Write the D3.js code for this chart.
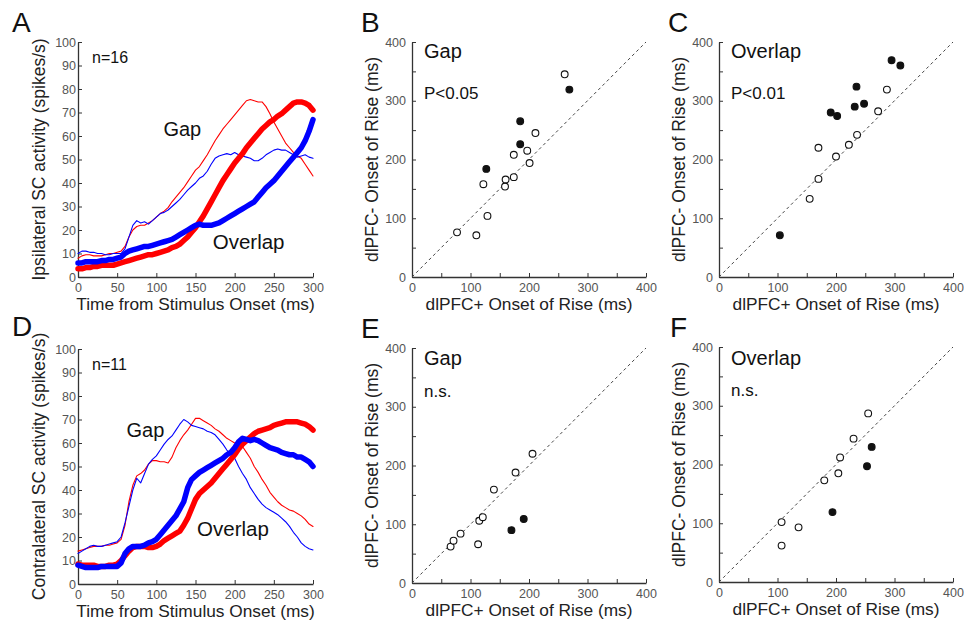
<!DOCTYPE html>
<html><head><meta charset="utf-8">
<script src="https://cdn.jsdelivr.net/npm/d3@7"></script>
<style>
html,body{margin:0;padding:0;background:#fff;}
svg{display:block;font-family:"Liberation Sans",Arial,Helvetica,sans-serif;}
</style></head>
<body>
<svg id="fig" width="964" height="626"></svg>
<script>
// ---------- DATA ----------
const timeMs = d3.range(0, 301, 5);
const timeTicks = [0, 50, 100, 150, 200, 250, 300];
const rateTicks = [0, 10, 20, 30, 40, 50, 60, 70, 80, 90, 100];
const onsetTicks = [0, 50, 100, 150, 200, 250, 300, 350, 400];
const onsetLabels = [0, 100, 200, 300, 400];

// Panel A: ipsilateral
const ipsiGapRed = [8,9,9.5,9.5,9,9,9,9.5,10,10,10.5,11,13,17,20,21.5,22,22,23,24,25.5,27,28,29.5,32,34,36,38,40.5,43,45.5,47,49.5,52,55,58,60.5,63,65,67,69,71,73,75,75.5,75,74.5,74.5,72.5,69.5,66,63,60,57,55,53,51.5,50.5,48,45.5,43];
const ipsiGapBlue = [10,11,11,10.5,10.5,10,10,9.5,9.5,10,10,10,12,17,22,24,23,23.5,22.5,24,25.5,27,27.5,28.5,30,31.5,33,35,37,38.5,40,42,43,45,48,50.5,51.5,52,52.5,52,53,52,51.5,51,50.5,49.5,49.5,50.5,52,53,54,54.5,54,54,53,52,51,51.5,52,51,50.5];
const ipsiOverlapRed = [3.5,3.5,4,4,4.5,4.5,5,5,5,5,5.5,6,6.5,7,7.5,8,8.5,9,9.5,9.5,10,10.5,11,11.5,12.5,13,14,15.5,17,19,21,23.5,26,29,32,35,38,41,43.5,46,48.5,50.5,52.5,55,57,59,61,63,64.5,66,67,68.5,69.5,71,72.5,74,74.5,74.5,74,73,71];
const ipsiOverlapBlue = [6,6,6.5,6.5,6.5,6.5,7,7,7.5,7.5,8,8.5,10,11,11.5,12,12.5,13,13,13.5,14,14.5,15,15.5,16,17,18,19,20,21,22,22.5,22,22,22,22.5,23,24,25,26,27,28,29,30,31,32,34,36,38,39.5,41,43,45,47,49,51,53,55,58,62,67];

// Panel D: contralateral
const contraGapRed = [14,14.5,15,15.5,16,16,16,16.5,16.5,17,17.5,19,25,35,42,46,47,48.5,51,52.5,52.5,52,52,51.5,54,58,61,63.5,65.5,68,70.5,70.5,69.5,68.5,67.5,66,65,63.5,62,61,60,59.5,58.5,56,53.5,50,47.5,44.5,42,39,37,35,33.5,32.5,31.5,31,30,29,27.5,25.5,24.5];
const contraGapBlue = [13,14,15,16,16.5,16,16,16.5,17,17.5,18,20,26,33,40,45,43,47,51,53,54.5,57,59.5,61.5,63,65.5,68,70,69,67.5,67,66.5,66,65,64.5,63.5,61.5,59.5,57,55,53.5,50,47,44.5,41,38.5,36,34,32.5,31.5,30.5,29.5,28,26.5,24.5,22,20,17.5,16,15,14.5];
const contraOverlapRed = [8.5,8,8,8,8,7.5,7.5,7.5,8,8,8.5,10,12,14,15.5,16,16,16,15.5,15.5,16,17,18.5,19.5,20.5,21.5,22.5,25,28,32,36,38.5,40,41.5,43,45,47,49,51,53,55,57.5,59.5,61,62.5,64,65,65.5,66,66.5,67.5,68,68.5,69,69,69,69,68.5,68,67,65.5];
const contraOverlapBlue = [8,7.5,7,7,7,7,7.5,7.5,7.5,7.5,7.5,9,13,15,16,16,16,16.5,17.5,18,19,21,23,25,27,29,32,35,41,44.5,46,47.5,48.5,49.5,50.5,51.5,52.5,53.5,55,56,58,60.5,62,61.5,61,61.5,61,60,59,58,57.5,57,56,55.5,55,55,54,54,53,52,50];

// Scatter panels: dlPFC+ onset, dlPFC- onset, significant (1 = filled)
const ipsiGapPlus   = [77,110,129,122,159,160,174,174,197,201,211,261,127,185,185,269];
const ipsiGapMinus  = [76,71,104,158,154,166,170,208,215,194,245,345,184,265,226,319];
const ipsiGapSig    = [0,0,0,0,0,0,0,0,0,0,0,0,1,1,1,1];

const ipsiOverlapPlus  = [155,170,170,200,222,236,272,287,104,191,202,232,235,248,295,310];
const ipsiOverlapMinus = [133,220,167,205,225,242,282,319,71,280,274,290,324,295,369,360];
const ipsiOverlapSig   = [0,0,0,0,0,0,0,0,1,1,1,1,1,1,1,1];

const contraGapPlus  = [66,71,83,113,115,121,140,177,206,170,191];
const contraGapMinus = [62,72,84,66,106,112,159,188,220,90,109];
const contraGapSig   = [0,0,0,0,0,0,0,0,0,1,1];

const contraOverlapPlus  = [107,107,136,180,204,207,230,255,194,253,261];
const contraOverlapMinus = [102,62,93,173,185,212,244,287,119,197,230];
const contraOverlapSig   = [0,0,0,0,0,0,0,0,1,1,1];

// ---------- DRAW ----------
const svg = d3.select("#fig");
const AXIS_COL = "#333", TICK_TXT = "#555";

function styleAxis(g){
  g.select(".domain").attr("stroke", AXIS_COL).attr("stroke-width", 1.3);
  g.selectAll(".tick line").attr("stroke", AXIS_COL).attr("stroke-width", 1);
  g.selectAll(".tick text").attr("fill", TICK_TXT).attr("font-size", 12.5)
    .attr("font-family", "Liberation Sans, Arial, sans-serif");
}

function panel(cfg){
  const g = svg.append("g").attr("transform", `translate(${cfg.left},${cfg.top})`);
  const x = d3.scaleLinear().domain(cfg.xDom).range([0, cfg.w]);
  const y = d3.scaleLinear().domain(cfg.yDom).range([cfg.h, 0]);
  const fmtX = cfg.xLabels ? (d => cfg.xLabels.includes(d) ? d : "") : (d => d);
  const fmtY = cfg.yLabels ? (d => cfg.yLabels.includes(d) ? d : "") : (d => d);
  const gx = g.append("g").attr("transform", `translate(0,${cfg.h})`)
    .call(d3.axisBottom(x).tickValues(cfg.xTicks).tickFormat(fmtX).tickSizeInner(-4).tickSizeOuter(0).tickPadding(6));
  styleAxis(gx);
  const gy = g.append("g")
    .call(d3.axisLeft(y).tickValues(cfg.yTicks).tickFormat(fmtY).tickSizeInner(-4).tickSizeOuter(0).tickPadding(cfg.yPad));
  styleAxis(gy);
  g.append("text").attr("x", cfg.w/2).attr("y", cfg.h + 33).attr("text-anchor", "middle")
    .attr("font-size", 17.3).attr("fill", "#222").text(cfg.xTitle);
  g.append("text").attr("transform", `translate(${cfg.yTitleX},${cfg.h/2}) rotate(-90)`)
    .attr("text-anchor", "middle").attr("font-size", 17.5).attr("fill", "#222").text(cfg.yTitle);
  svg.append("text").attr("x", cfg.letterX).attr("y", cfg.letterY)
    .attr("font-size", 28).attr("fill", "#111").text(cfg.letter);
  return {g, x, y};
}

function linePanel(cfg, series){
  const {g, x, y} = panel(cfg);
  const line = d3.line().x((d,i) => x(timeMs[i])).y(d => y(d));
  series.forEach(s => {
    g.append("path").datum(s.values).attr("fill", "none").attr("stroke", s.color)
      .attr("stroke-width", s.width).attr("stroke-linejoin", "round").attr("stroke-linecap", "round")
      .attr("d", line);
  });
  cfg.notes.forEach(n => {
    g.append("text").attr("x", x(n.x)).attr("y", y(n.y)).attr("font-size", n.size)
      .attr("fill", "#111").text(n.t);
  });
}

function scatterPanel(cfg, plus, minus, sig){
  const {g, x, y} = panel(cfg);
  g.append("line").attr("x1", x(0)).attr("y1", y(0)).attr("x2", x(400)).attr("y2", y(400))
    .attr("stroke", "#444").attr("stroke-width", 1).attr("stroke-dasharray", "3,3");
  const pts = plus.map((p,i) => ({p, m: minus[i], s: sig[i]}));
  g.selectAll("circle").data(pts).enter().append("circle")
    .attr("cx", d => x(d.p)).attr("cy", d => y(d.m)).attr("r", 3.4)
    .attr("fill", d => d.s ? "#111" : "#fff").attr("stroke", "#111").attr("stroke-width", 1.1);
  cfg.notes.forEach(n => {
    g.append("text").attr("x", 12).attr("y", n.y).attr("font-size", n.size)
      .attr("fill", "#111").text(n.t);
  });
}

const common = {xTicks: timeTicks, yTicks: rateTicks, xDom:[0,300], yDom:[0,100], w:235, h:235,
  xTitle: "Time from Stimulus Onset (ms)", yPad: 2, yTitleX: -33.5};
const scatCommon = {xTicks: onsetTicks, yTicks: onsetTicks, xLabels: onsetLabels, yLabels: onsetLabels,
  xDom:[0,400], yDom:[0,400], w:234, h:235, xTitle: "dlPFC+ Onset of Rise (ms)",
  yTitle: "dlPFC- Onset of Rise (ms)", yPad: 6, yTitleX: -34};

linePanel(Object.assign({}, common, {left:78, top:42, letter:"A", letterX:12, letterY:32,
  yTitle: "Ipsilateral SC activity (spikes/s)",
  notes:[{t:"n=16", x:18, y:91, size:16},{t:"Gap", x:109, y:60, size:20},{t:"Overlap", x:172, y:12, size:20.5}]}),
  [{values: ipsiGapRed, color:"#ff0000", width:1.1},
   {values: ipsiGapBlue, color:"#0000ff", width:1.1},
   {values: ipsiOverlapRed, color:"#ff0000", width:5.5},
   {values: ipsiOverlapBlue, color:"#0000ff", width:5.5}]);

linePanel(Object.assign({}, common, {left:78, top:349, letter:"D", letterX:12, letterY:336,
  yTitle: "Contralateral SC activity (spikes/s)",
  notes:[{t:"n=11", x:18, y:91, size:16},{t:"Gap", x:62, y:62.5, size:20},{t:"Overlap", x:152, y:20.5, size:20.5}]}),
  [{values: contraGapRed, color:"#ff0000", width:1.1},
   {values: contraGapBlue, color:"#0000ff", width:1.1},
   {values: contraOverlapRed, color:"#ff0000", width:5.5},
   {values: contraOverlapBlue, color:"#0000ff", width:5.5}]);

scatterPanel(Object.assign({}, scatCommon, {left:412, top:42, letter:"B", letterX:361, letterY:32,
  notes:[{t:"Gap", y:16, size:20},{t:"P<0.05", y:57, size:17}]}), ipsiGapPlus, ipsiGapMinus, ipsiGapSig);
scatterPanel(Object.assign({}, scatCommon, {left:719, top:42, letter:"C", letterX:668, letterY:32,
  notes:[{t:"Overlap", y:16, size:20},{t:"P<0.01", y:57, size:17}]}), ipsiOverlapPlus, ipsiOverlapMinus, ipsiOverlapSig);
scatterPanel(Object.assign({}, scatCommon, {left:412, top:348, letter:"E", letterX:361, letterY:338,
  notes:[{t:"Gap", y:17, size:20},{t:"n.s.", y:49, size:17}]}), contraGapPlus, contraGapMinus, contraGapSig);
scatterPanel(Object.assign({}, scatCommon, {left:719, top:347, letter:"F", letterX:670, letterY:337,
  notes:[{t:"Overlap", y:18, size:20},{t:"n.s.", y:49, size:17}]}), contraOverlapPlus, contraOverlapMinus, contraOverlapSig);
</script>
</body></html>
